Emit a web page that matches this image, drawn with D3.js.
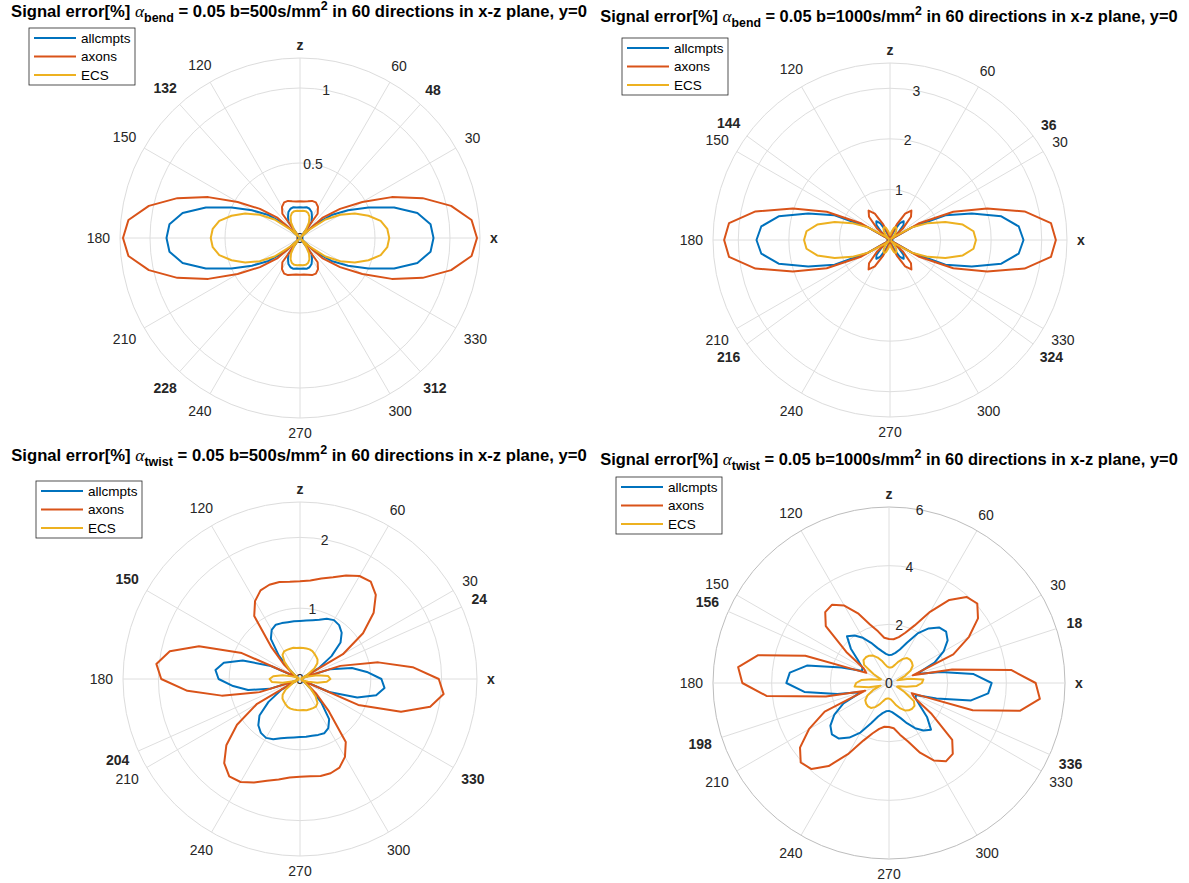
<!DOCTYPE html>
<html>
<head>
<meta charset="utf-8">
<script src="https://cdn.jsdelivr.net/npm/d3@7"></script>
<style>
  body { margin: 0; background: #fff; }
  svg { display: block; }
  text { font-family: "Liberation Sans", Arial, sans-serif; }
</style>
</head>
<body>
<div id="chart"></div>
<script>
// gradient directions (degrees) in the x-z plane
const directions = [0,6,12,18,24,30,36,42,48,54,60,66,72,78,84,90,96,102,108,114,120,126,132,138,144,150,156,162,168,174,
  180,186,192,198,204,210,216,222,228,234,240,246,252,258,264,270,276,282,288,294,300,306,312,318,324,330,336,342,348,354];

const seriesNames = ['allcmpts', 'axons', 'ECS'];

// bend, b=500
const bend500_allcmpts = [0.89,0.875,0.80,0.66,0.50,0.37,0.26,0.14,0.01,0.13,0.16,0.19,0.205,0.21,0.205,0.205,0.205,0.21,0.205,0.19,0.16,0.13,0.01,0.14,0.26,0.37,0.50,0.66,0.80,0.875,
  0.89,0.875,0.80,0.66,0.50,0.37,0.26,0.14,0.01,0.13,0.16,0.19,0.205,0.21,0.205,0.205,0.205,0.21,0.205,0.19,0.16,0.13,0.01,0.14,0.26,0.37,0.50,0.66,0.80,0.875];
const bend500_axons = [1.18,1.15,1.03,0.86,0.67,0.48,0.33,0.20,0.02,0.20,0.24,0.26,0.26,0.25,0.245,0.245,0.245,0.25,0.26,0.26,0.24,0.20,0.02,0.20,0.33,0.48,0.67,0.86,1.03,1.15,
  1.18,1.15,1.03,0.86,0.67,0.48,0.33,0.20,0.02,0.20,0.24,0.26,0.26,0.25,0.245,0.245,0.245,0.25,0.26,0.26,0.24,0.20,0.02,0.20,0.33,0.48,0.67,0.86,1.03,1.15];
const bend500_ECS = [0.595,0.585,0.55,0.48,0.40,0.31,0.21,0.08,0.01,0.07,0.12,0.155,0.175,0.183,0.182,0.18,0.182,0.183,0.175,0.155,0.12,0.07,0.01,0.08,0.21,0.31,0.40,0.48,0.55,0.585,
  0.595,0.585,0.55,0.48,0.40,0.31,0.21,0.08,0.01,0.07,0.12,0.155,0.175,0.183,0.182,0.18,0.182,0.183,0.175,0.155,0.12,0.07,0.01,0.08,0.21,0.31,0.40,0.48,0.55,0.585];

// bend, b=1000
const bend1000_allcmpts = [2.64,2.56,2.25,1.7,1.2,0.5,0.02,0.22,0.40,0.46,0.38,0.2,0.08,0.04,0.03,0.03,0.03,0.04,0.08,0.2,0.38,0.46,0.40,0.22,0.02,0.5,1.2,1.7,2.25,2.56,
  2.64,2.56,2.25,1.7,1.2,0.5,0.02,0.22,0.40,0.46,0.38,0.2,0.08,0.04,0.03,0.03,0.03,0.04,0.08,0.2,0.38,0.46,0.40,0.22,0.02,0.5,1.2,1.7,2.25,2.56];
const bend1000_axons = [3.28,3.2,2.72,2.02,1.37,0.65,0.03,0.35,0.62,0.72,0.6,0.35,0.15,0.08,0.06,0.06,0.06,0.08,0.15,0.35,0.6,0.72,0.62,0.35,0.03,0.65,1.37,2.02,2.72,3.2,
  3.28,3.2,2.72,2.02,1.37,0.65,0.03,0.35,0.62,0.72,0.6,0.35,0.15,0.08,0.06,0.06,0.06,0.08,0.15,0.35,0.6,0.72,0.62,0.35,0.03,0.65,1.37,2.02,2.72,3.2];
const bend1000_ECS = [1.70,1.66,1.47,1.15,0.82,0.5,0.15,0.03,0.12,0.2,0.26,0.28,0.25,0.18,0.12,0.1,0.12,0.18,0.25,0.28,0.26,0.2,0.12,0.03,0.15,0.5,0.82,1.15,1.47,1.66,
  1.70,1.66,1.47,1.15,0.82,0.5,0.15,0.03,0.12,0.2,0.26,0.28,0.25,0.18,0.12,0.1,0.12,0.18,0.25,0.28,0.26,0.2,0.12,0.03,0.15,0.5,0.82,1.15,1.47,1.66];

// twist, b=500
const twist500_allcmpts = [1.15,0.95,0.75,0.45,0.03,0.3,0.55,0.77,0.88,0.94,0.96,0.93,0.88,0.85,0.83,0.82,0.82,0.82,0.83,0.84,0.80,0.70,0.45,0.2,0.08,0.03,0.45,0.85,1.1,1.2,
  1.15,0.95,0.75,0.45,0.03,0.3,0.55,0.77,0.88,0.94,0.96,0.93,0.88,0.85,0.83,0.82,0.82,0.82,0.83,0.84,0.80,0.70,0.45,0.2,0.08,0.03,0.45,0.85,1.1,1.2];
const twist500_axons = [1.96,1.6,1.13,0.6,0.05,0.7,1.1,1.4,1.6,1.70,1.68,1.6,1.51,1.45,1.40,1.38,1.38,1.40,1.40,1.37,1.27,1.1,0.6,0.3,0.12,0.05,0.9,1.5,1.88,2.04,
  1.96,1.6,1.13,0.6,0.05,0.7,1.1,1.4,1.6,1.70,1.68,1.6,1.51,1.45,1.40,1.38,1.38,1.40,1.40,1.37,1.27,1.1,0.6,0.3,0.12,0.05,0.9,1.5,1.88,2.04];
const twist500_ECS = [0.43,0.40,0.25,0.1,0.02,0.12,0.25,0.33,0.37,0.39,0.41,0.43,0.44,0.44,0.44,0.44,0.44,0.45,0.45,0.45,0.45,0.42,0.33,0.2,0.08,0.02,0.05,0.12,0.25,0.38,
  0.43,0.40,0.25,0.1,0.02,0.12,0.25,0.33,0.37,0.39,0.41,0.43,0.44,0.44,0.44,0.44,0.44,0.45,0.45,0.45,0.45,0.42,0.33,0.2,0.08,0.02,0.05,0.12,0.25,0.38];

// twist, b=1000
const twist1000_allcmpts = [3.5,2.9,1.8,1.0,1.7,2.15,2.47,2.62,2.55,2.3,1.95,1.5,1.2,1.05,0.97,0.95,1.0,1.1,1.25,1.5,1.78,2.0,2.14,1.75,1.3,1.05,1.0,1.7,2.86,3.4,
  3.5,2.9,1.8,1.0,1.7,2.15,2.47,2.62,2.55,2.3,1.95,1.5,1.2,1.05,0.97,0.95,1.0,1.1,1.25,1.5,1.78,2.0,2.14,1.75,1.3,1.05,1.0,1.7,2.86,3.4];
const twist1000_axons = [5.0,4.2,2.2,0.85,2.4,3.15,3.75,4.05,3.95,3.5,2.8,2.15,1.8,1.6,1.5,1.5,1.55,1.8,2.1,2.6,3.05,3.3,3.25,2.9,1.8,1.0,0.85,3.0,4.56,5.17,
  5.0,4.2,2.2,0.85,2.4,3.15,3.75,4.05,3.95,3.5,2.8,2.15,1.8,1.6,1.5,1.5,1.55,1.8,2.1,2.6,3.05,3.3,3.25,2.9,1.8,1.0,0.85,3.0,4.56,5.17];
const twist1000_ECS = [1.12,1.18,0.7,0.3,0.6,0.85,1.0,1.05,1.07,1.05,0.95,0.8,0.65,0.56,0.53,0.53,0.56,0.65,0.8,0.95,1.08,1.15,1.18,1.17,1.05,0.6,0.3,0.35,0.6,0.95,
  1.12,1.18,0.7,0.3,0.6,0.85,1.0,1.05,1.07,1.05,0.95,0.8,0.65,0.56,0.53,0.53,0.56,0.65,0.8,0.95,1.08,1.15,1.18,1.17,1.05,0.6,0.3,0.35,0.6,0.95];

// tick labels
const thetaTicks = [0,30,60,90,120,150,180,210,240,270,300,330];
const bend500_boldAngles = [48,132,228,312];
const bend1000_boldAngles = [36,144,216,324];
const twist500_boldAngles = [24,150,204,330];
const twist1000_boldAngles = [18,156,198,336];
const bend500_rTicks = [0,0.5,1];
const bend1000_rTicks = [0,1,2,3];
const twist500_rTicks = [0,1,2];
const twist1000_rTicks = [0,2,4,6];

const colors = { allcmpts: '#0072BD', axons: '#D95319', ECS: '#EDB120' };

const width = 1189, height = 883;
const svg = d3.select('#chart').append('svg').attr('width', width).attr('height', height);

const panels = [
  { sub: 'bend', b: 500, cx: 300, cy: 238, R: 180, rmax: 1.2, rTicks: bend500_rTicks, bold: bend500_boldAngles,
    data: [bend500_allcmpts, bend500_axons, bend500_ECS], title: { x: 299, y: 17, w: 576 }, legend: { x: 29, y: 28 }, outer: '#dcdcdc' },
  { sub: 'bend', b: 1000, cx: 890, cy: 240, R: 177, rmax: 3.5, rTicks: bend1000_rTicks, bold: bend1000_boldAngles,
    data: [bend1000_allcmpts, bend1000_axons, bend1000_ECS], title: { x: 889, y: 22, w: 578 }, legend: { x: 622, y: 38 }, outer: '#dcdcdc' },
  { sub: 'twist', b: 500, cx: 300, cy: 679, R: 177, rmax: 2.5, rTicks: twist500_rTicks, bold: twist500_boldAngles,
    data: [twist500_allcmpts, twist500_axons, twist500_ECS], title: { x: 299, y: 461, w: 576 }, legend: { x: 36, y: 481 }, outer: '#dcdcdc' },
  { sub: 'twist', b: 1000, cx: 889, cy: 683, R: 176, rmax: 6, rTicks: twist1000_rTicks, bold: twist1000_boldAngles,
    data: [twist1000_allcmpts, twist1000_axons, twist1000_ECS], title: { x: 889, y: 465, w: 578 }, legend: { x: 616, y: 477 }, outer: '#bdbdbd' }
];

const rad = d => d * Math.PI / 180;
const gridColor = '#dedede';
const labelColor = '#262626';

function drawTitle(p) {
  const t = svg.append('text')
    .attr('x', p.title.x).attr('y', p.title.y)
    .attr('text-anchor', 'middle')
    .style('font-weight', 'bold')
    .attr('fill', '#000');

  function build(s) {
    t.selectAll('*').remove();
    t.style('font-size', s + 'px');
    t.append('tspan').text('Signal error[%] ');
    t.append('tspan')
      .style('font-family', '"Liberation Serif", "Times New Roman", serif')
      .style('font-style', 'italic').style('font-weight', 'normal')
      .style('font-size', (s * 1.05) + 'px')
      .text('\u03B1');
    t.append('tspan').attr('dy', s * 0.32).style('font-size', (s * 0.75) + 'px').text(p.sub);
    t.append('tspan').attr('dy', -s * 0.32).text(' = 0.05 b=' + p.b + 's/mm');
    t.append('tspan').attr('dy', -s * 0.42).style('font-size', (s * 0.75) + 'px').text('2');
    t.append('tspan').attr('dy', s * 0.42).text(' in 60 directions in x-z plane, y=0');
  }
  build(15);
  const w = t.node().getComputedTextLength();
  build(15 * p.title.w / w);
}

function drawPanel(p) {
  const g = svg.append('g').attr('transform', `translate(${p.cx},${p.cy})`);
  const r = d3.scaleLinear().domain([0, p.rmax]).range([0, p.R]);

  // rings
  g.selectAll('.ring').data(p.rTicks.filter(v => v > 0 && v < p.rmax)).enter()
    .append('circle').attr('r', d => r(d))
    .attr('fill', 'none').attr('stroke', gridColor).attr('stroke-width', 1);
  g.append('circle').attr('r', p.R).attr('fill', 'none').attr('stroke', p.outer).attr('stroke-width', 1);

  // spokes
  const spokes = Array.from(new Set(thetaTicks.concat(p.bold))).sort((a, b) => a - b);
  g.selectAll('.spoke').data(spokes).enter().append('line')
    .attr('x1', 0).attr('y1', 0)
    .attr('x2', d => p.R * Math.cos(rad(d)))
    .attr('y2', d => -p.R * Math.sin(rad(d)))
    .attr('stroke', gridColor).attr('stroke-width', 1);

  // theta labels, pushed out so the nearest edge sits just outside the circle
  const tl = g.selectAll('.tlab').data(spokes).enter().append('text')
    .attr('text-anchor', 'middle').attr('dominant-baseline', 'central')
    .style('font-size', '14px')
    .style('font-weight', d => (d === 0 || d === 90 || p.bold.includes(d)) ? 'bold' : 'normal')
    .attr('fill', labelColor)
    .text(d => d === 0 ? 'x' : d === 90 ? 'z' : String(d));
  tl.each(function (d) {
    const w = this.getComputedTextLength();
    const hh = (d === 0 || d === 90) ? 3.5 : 5;
    const c = Math.cos(rad(d)), s = Math.sin(rad(d));
    const rl = p.R + 10 + (w / 2) * Math.abs(c) + hh * Math.abs(s);
    d3.select(this).attr('x', rl * c).attr('y', -rl * s);
  });

  // r labels (at 80 degrees)
  g.selectAll('.rlab').data(p.rTicks).enter().append('text')
    .attr('x', d => r(d) * Math.cos(rad(80)))
    .attr('y', d => -r(d) * Math.sin(rad(80)))
    .attr('text-anchor', 'middle').attr('dominant-baseline', 'central')
    .style('font-size', '14px').attr('fill', labelColor)
    .text(d => String(d));

  // curves
  const line = d3.lineRadial()
    .angle(d => rad(90 - d.theta))
    .radius(d => r(d.v))
    .curve(d3.curveLinearClosed);

  p.data.forEach((vals, i) => {
    const pts = directions.map((th, k) => ({ theta: th, v: vals[k] }));
    g.append('path').datum(pts)
      .attr('d', line)
      .attr('fill', 'none')
      .attr('stroke', colors[seriesNames[i]])
      .attr('stroke-width', 2)
      .attr('stroke-linejoin', 'round');
  });

  // legend
  const lg = svg.append('g').attr('transform', `translate(${p.legend.x},${p.legend.y})`);
  lg.append('rect').attr('width', 106).attr('height', 57)
    .attr('fill', '#fff').attr('stroke', labelColor).attr('stroke-width', 0.8);
  seriesNames.forEach((name, i) => {
    const y = 10 + i * 18.5;
    lg.append('line').attr('x1', 5).attr('x2', 47).attr('y1', y).attr('y2', y)
      .attr('stroke', colors[name]).attr('stroke-width', 2);
    lg.append('text').attr('x', 52).attr('y', y).attr('dominant-baseline', 'central')
      .style('font-size', '13.5px').attr('fill', '#000').text(name);
  });

  drawTitle(p);
}

panels.forEach(drawPanel);
</script>
</body>
</html>
